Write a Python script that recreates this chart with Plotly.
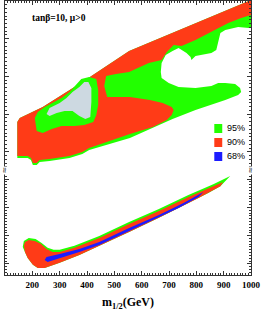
import plotly.graph_objects as go

# ---------------- data (m1/2 in GeV, m0 in GeV) ----------------
# upper panel (focus-point branch)
up_green_x = [145, 154, 238, 383, 554, 710, 855, 964, 1000, 1000, 993, 953, 906, 888, 880, 873, 855, 819, 797,
              782, 779, 764, 735, 713, 688, 673, 670, 673, 699, 735, 797, 855, 880, 906, 942, 960, 964, 953,
              906, 797, 713, 557, 408, 383, 336, 263, 227, 216, 202, 195, 183, 145]
up_green_y = [1397, 1450, 1595, 1927, 2337, 2576, 2788, 2960, 3013, 2642, 2642, 2655, 2616, 2576, 2443, 2350,
              2311, 2284, 2271, 2218, 2258, 2311, 2377, 2337, 2284, 2178, 2059, 1980, 1913, 1860, 1847, 1874,
              1913, 1913, 1900, 1847, 1794, 1754, 1688, 1555, 1436, 1185, 1026, 973, 920, 880, 867, 827, 827,
              893, 920, 920]

up_red_x = [145, 154, 238, 383, 554, 710, 855, 964, 1000, 1000, 964, 917, 855, 797, 746, 717, 692, 673, 626,
            554, 506, 470, 463, 474, 557, 630, 677, 710, 717, 710, 692, 641, 557, 408, 383, 336, 263, 227,
            216, 202, 195, 183, 145]
up_red_y = [1397, 1450, 1595, 1927, 2337, 2576, 2788, 2960, 3013, 2814, 2774, 2708, 2589, 2483, 2404, 2417,
            2324, 2218, 2178, 2059, 2032, 2006, 1874, 1728, 1728, 1688, 1648, 1595, 1555, 1489, 1423, 1330,
            1238, 1052, 999, 946, 906, 893, 853, 853, 920, 946, 946]

up_island_x = [209, 220, 245, 271, 307, 336, 358, 379, 408, 434, 441, 441, 434, 423, 390, 354, 307, 271, 238, 216]
up_island_y = [1450, 1529, 1595, 1648, 1715, 1794, 1887, 1966, 1993, 1966, 1820, 1622, 1489, 1397, 1357, 1344,
               1344, 1304, 1251, 1277]

up_core_x = [252, 263, 300, 325, 347, 372, 390, 405, 416, 416, 412, 394, 372, 347, 318, 289, 263]
up_core_y = [1503, 1582, 1648, 1715, 1794, 1860, 1927, 1927, 1847, 1661, 1463, 1436, 1476, 1542, 1542, 1516, 1476]

# lower panel (coannihilation strip)
lo_green_x = [165, 169, 187, 212, 234, 256, 278, 300, 354, 445, 554, 663, 771, 862, 924, 902,
              888, 844, 808, 735, 663, 554, 445, 372, 300, 245, 220, 202, 183, 173]
lo_green_y = [160, 181, 192, 188, 174, 157, 150, 150, 164, 199, 248, 294, 344, 382, 411, 390,
              375, 351, 333, 298, 263, 213, 164, 132, 104, 86, 86, 97, 121, 142]

lo_red_x = [169, 173, 187, 209, 231, 252, 274, 300, 354, 445, 554, 663, 771, 844, 898,
            888, 844, 808, 735, 663, 554, 445, 372, 300, 245, 220, 202, 183, 173]
lo_red_y = [164, 178, 185, 181, 171, 153, 142, 142, 157, 192, 241, 287, 337, 368, 390,
            375, 351, 333, 298, 263, 213, 164, 132, 104, 86, 86, 97, 121, 142]

lo_blue_x = [245, 252, 300, 372, 445, 554, 663, 753, 826, 808, 735, 663, 554, 445, 372, 300, 256]
lo_blue_y = [114, 125, 135, 153, 178, 227, 273, 315, 354, 337, 298, 266, 217, 167, 142, 121, 107]

x_ticks = [200, 300, 400, 500, 600, 700, 800, 900, 1000]
legend_labels = ["95%", "90%", "68%"]

GREEN = "#22ff00"
RED = "#ff3b17"
BLUE = "#1c1cff"
GREY = "#cdd9e1"
legend_colors = [GREEN, RED, BLUE]

fig = go.Figure()


def region(x, y, color, xa, ya):
    fig.add_trace(go.Scatter(x=x, y=y, fill="toself", fillcolor=color, mode="lines",
                             line=dict(width=0, color=color), xaxis=xa, yaxis=ya,
                             hoverinfo="skip", showlegend=False))


region(up_green_x, up_green_y, GREEN, "x2", "y2")
region(up_red_x, up_red_y, RED, "x2", "y2")
region(up_island_x, up_island_y, GREEN, "x2", "y2")
region(up_core_x, up_core_y, GREY, "x2", "y2")
region(lo_green_x, lo_green_y, GREEN, "x", "y")
region(lo_red_x, lo_red_y, RED, "x", "y")
region(lo_blue_x, lo_blue_y, BLUE, "x", "y")

AX = "#333333"
split = 105 / 274
tickfont = dict(family="Liberation Serif", size=9, color="black", weight="bold")

fig.update_layout(
    width=262, height=312, autosize=False,
    margin=dict(l=5, r=9, t=1, b=37),
    paper_bgcolor="white", plot_bgcolor="white",
    xaxis=dict(domain=[0, 1], anchor="y", range=[100, 1000], tickmode="array", tickvals=x_ticks,
               ticktext=[str(v) for v in x_ticks], ticks="inside", ticklen=4, tickcolor=AX,
               showline=True, linecolor=AX, linewidth=1, showgrid=False, zeroline=False,
               tickfont=tickfont, ticklabelstandoff=1, ticklabeloverflow="allow",
               minor=dict(dtick=10, tick0=0, ticks="inside", ticklen=2, tickcolor=AX, showgrid=False)),
    xaxis2=dict(domain=[0, 1], anchor="y2", matches="x", range=[100, 1000], side="top",
                dtick=100, tick0=0, ticks="inside", ticklen=4, tickcolor=AX, showticklabels=False,
                showline=True, linecolor=AX, linewidth=1, showgrid=False, zeroline=False,
                minor=dict(dtick=10, tick0=0, ticks="inside", ticklen=2, tickcolor=AX, showgrid=False)),
    yaxis=dict(domain=[0, split], anchor="x", range=[61, 432], dtick=100, tick0=0,
               ticks="inside", ticklen=4, tickcolor=AX, showticklabels=False, mirror="ticks",
               showline=True, linecolor=AX, linewidth=1, showgrid=False, zeroline=False,
               minor=dict(dtick=10, tick0=0, ticks="inside", ticklen=2, tickcolor=AX, showgrid=False)),
    yaxis2=dict(domain=[split, 1], anchor="x2", range=[760, 3000], dtick=500, tick0=0,
                ticks="inside", ticklen=4, tickcolor=AX, showticklabels=False, mirror="ticks",
                showline=True, linecolor=AX, linewidth=1, showgrid=False, zeroline=False,
                minor=dict(dtick=50, tick0=0, ticks="inside", ticklen=2, tickcolor=AX, showgrid=False)),
)

# axis title
fig.add_annotation(text="m<sub>1/2</sub>(GeV)", xref="paper", yref="paper", x=0.5, y=-0.102,
                   xanchor="center", yanchor="middle", showarrow=False,
                   font=dict(family="Liberation Serif", size=12, color="black", weight="bold"))
# panel label
fig.add_annotation(text="tanβ=10, μ>0", xref="paper", yref="paper", x=0.1008, y=0.938,
                   xanchor="left", yanchor="middle", showarrow=False,
                   font=dict(family="Liberation Serif", size=9.5, color="black", weight="bold"))

# legend
sq_y = [(0.5182, 0.5511), (0.4672, 0.5), (0.4161, 0.4489)]
txt_y = [0.5347, 0.4836, 0.4325]
for lab, col, (y0, y1), ty in zip(legend_labels, legend_colors, sq_y, txt_y):
    fig.add_shape(type="rect", xref="paper", yref="paper", x0=0.8508, x1=0.8831, y0=y0, y1=y1,
                  fillcolor=col, line=dict(width=0))
    fig.add_annotation(text=lab, xref="paper", yref="paper", x=0.8952, y=ty, xanchor="left",
                       yanchor="middle", showarrow=False,
                       font=dict(family="Liberation Sans", size=9, color="black"))

# axis-break marks
for bx in (0, 1):
    fig.add_annotation(text="≈", xref="paper", yref="paper", x=bx, y=split, xanchor="center",
                       yanchor="middle", showarrow=False, textangle=90, bgcolor="white",
                       borderpad=0, font=dict(family="DejaVu Sans", size=8, color=AX))

fig.write_html("out.html", config={"displayModeBar": False},
               post_script="document.body.style.margin='0';")
